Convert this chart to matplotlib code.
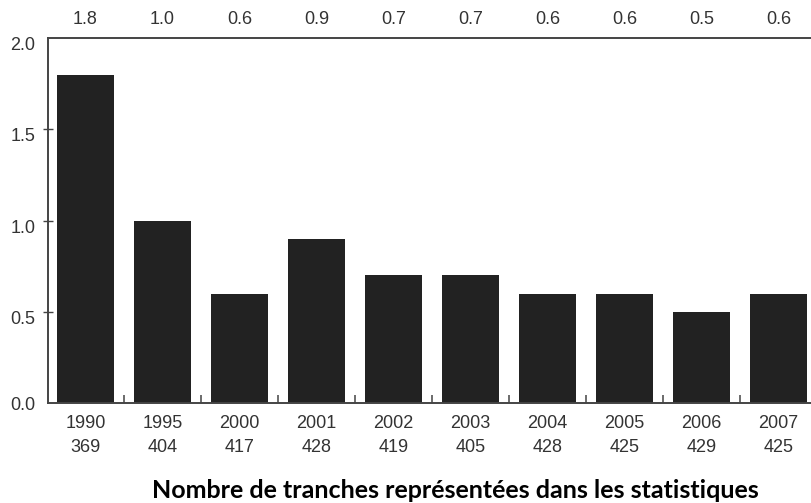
import numpy as np
import matplotlib
matplotlib.use('Agg')
import matplotlib.pyplot as plt
import matplotlib.transforms as mtransforms

# data
years = ['1990', '1995', '2000', '2001', '2002', '2003', '2004', '2005', '2006', '2007']
tranches = ['369', '404', '417', '428', '419', '405', '428', '425', '429', '425']
values = [1.8, 1.0, 0.6, 0.9, 0.7, 0.7, 0.6, 0.6, 0.5, 0.6]
top_labels = ['1.8', '1.0', '0.6', '0.9', '0.7', '0.7', '0.6', '0.6', '0.5', '0.6']
yticks = [0.0, 0.5, 1.0, 1.5, 2.0]
title = 'Nombre de tranches représentées dans les statistiques'

W, H = 811, 503
fig = plt.figure(figsize=(W / 100, H / 100), dpi=100)
ax = fig.add_axes([48 / W, (H - 403) / H, (811 - 48) / W, (403 - 38) / H])

x = np.arange(len(years))
ax.bar(x, values, width=0.74, color='#222222', zorder=2)

ax.set_xlim(-0.487, 9.42)
ax.set_ylim(0, 2.0)

tick_font = dict(family='Liberation Sans', size=13, color='#333333')

ax.set_yticks(yticks)
ax.set_yticklabels([f'{v:.1f}' for v in yticks], **tick_font)
ax.tick_params(axis='y', direction='inout', length=6.5, width=1.0, color='#444444', pad=6)
yt = ax.yaxis.get_major_ticks()
yt[0].tick1line.set_visible(False)
yt[-1].tick1line.set_visible(False)
# labels sit a little below their ticks in the reference (except 0.0)
shift = mtransforms.ScaledTranslation(0, -4 / 72, fig.dpi_scale_trans)
for lab in ax.get_yticklabels()[1:]:
    lab.set_transform(lab.get_transform() + shift)

ax.set_xticks(x)
ax.set_xticklabels([f'{y}\n{t}' for y, t in zip(years, tranches)], linespacing=1.5, **tick_font)
ax.tick_params(axis='x', which='major', length=0, pad=9)
ax.set_xticks(x[:-1] + 0.5, minor=True)
ax.tick_params(axis='x', which='minor', direction='in', length=6, width=1.1, color='#444444')

for s in ['left', 'bottom', 'top']:
    ax.spines[s].set_color('#444444')
    ax.spines[s].set_linewidth(1.4)
ax.spines['right'].set_visible(False)

# values above the plot
trans = mtransforms.blended_transform_factory(ax.transData, ax.transAxes)
up = mtransforms.ScaledTranslation(0, 7 / 72, fig.dpi_scale_trans)
for xi, lab in zip(x, top_labels):
    ax.text(xi, 1.0, lab, transform=trans + up, ha='center', va='bottom', **tick_font)

fig.text(455 / W, 1 - 490 / H, title, ha='center', va='center',
         family='Lato', weight='bold', size=18)

fig.savefig('out.png', dpi=100)
